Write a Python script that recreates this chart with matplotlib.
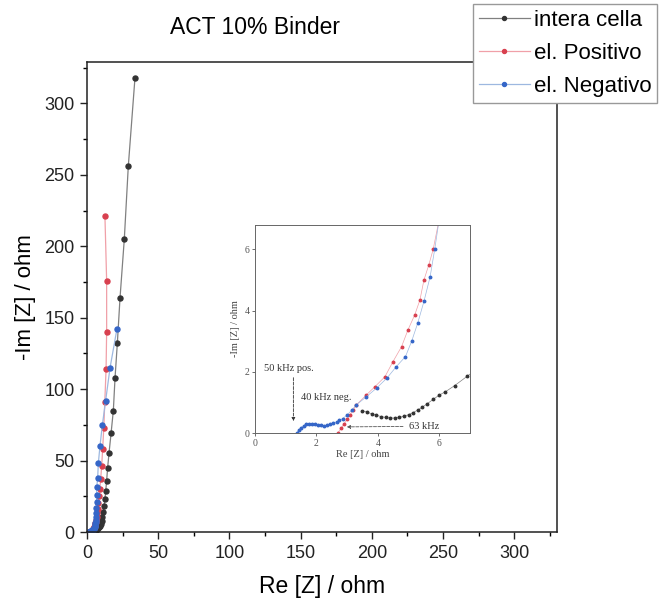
import matplotlib
matplotlib.use("Agg")
import matplotlib.pyplot as plt
from matplotlib.ticker import MultipleLocator

plt.rcParams['font.family'] = ['Liberation Sans', 'DejaVu Sans']

# intera cella (whole cell)
cell_re = [33.7, 29.0, 26.2, 23.2, 21.3, 19.7, 18.5, 16.9, 15.5, 14.5, 13.8, 13.2,
           12.6, 12.0, 11.4, 10.8, 10.2, 9.6, 9.0, 8.4, 7.8, 7.3, 6.9, 6.5, 6.2,
           6.0, 5.8, 5.6, 5.45, 5.3, 5.15, 5.0, 4.85, 4.7, 4.55, 4.4, 4.25, 4.1,
           3.95, 3.8, 3.65, 3.5]
cell_im = [318, 256, 205, 164, 132, 108, 85, 69, 55.5, 45, 36, 29,
           23, 18, 14, 10.5, 7.8, 5.8, 4.3, 3.3, 2.6, 2.15, 1.85, 1.55, 1.35,
           1.24, 1.1, 0.95, 0.85, 0.75, 0.67, 0.6, 0.55, 0.51, 0.49, 0.49, 0.51, 0.54,
           0.58, 0.63, 0.68, 0.73]

# el. Positivo
pos_re = [12.6, 13.8, 13.8, 13.4, 12.5, 11.8, 11.0, 10.3, 9.6, 9.0, 8.5, 8.0,
          7.5, 7.1, 6.7, 6.3, 6.0, 5.8, 5.66, 5.5, 5.37, 5.2, 4.98, 4.77, 4.49,
          4.23, 3.9, 3.63, 3.3, 3.2, 3.1, 3.0, 2.9, 2.8, 2.7]
pos_im = [221, 176, 140, 114, 91, 73, 58, 46, 37, 30, 25, 20,
          16, 13, 10.5, 8.5, 7.0, 6.0, 5.5, 5.0, 4.35, 3.86, 3.37, 2.82, 2.33,
          1.84, 1.51, 1.25, 0.92, 0.76, 0.6, 0.45, 0.3, 0.15, 0.0]

# el. Negativo
neg_re = [21.0, 16.2, 13.1, 10.8, 9.1, 8.0, 7.5, 6.9, 6.8, 6.7, 6.55, 6.4, 6.25,
          6.1, 6.0, 5.85, 5.7, 5.5, 5.3, 5.1, 4.9, 4.6, 4.3, 3.96, 3.63, 3.3,
          3.15, 3.0, 2.85, 2.75, 2.66, 2.55, 2.45, 2.35, 2.25, 2.15, 2.05, 1.95,
          1.85, 1.75, 1.65, 1.58, 1.5, 1.42, 1.36]
neg_im = [142, 115, 92, 75, 60, 48.5, 38, 31.7, 26, 21, 17, 13.5, 10.5,
          8.3, 7.0, 6.0, 5.1, 4.3, 3.6, 3.0, 2.5, 2.17, 1.8, 1.47, 1.19, 0.92,
          0.75, 0.59, 0.47, 0.41, 0.37, 0.32, 0.28, 0.25, 0.24, 0.25, 0.27, 0.3,
          0.31, 0.3, 0.28, 0.24, 0.18, 0.09, 0.0]

series = [
    ('intera cella', cell_re, cell_im, '#333333', '#808080'),
    ('el. Positivo', pos_re, pos_im, '#d8404f', '#f0a0a8'),
    ('el. Negativo', neg_re, neg_im, '#3566c8', '#9db8e0'),
]

fig = plt.figure(figsize=(6.63, 6.0), dpi=100)
ax = fig.add_axes([0.1312, 0.1133, 0.709, 0.7834])

for name, x, y, mc, lc in series:
    ax.plot(x, y, '-', color=lc, lw=0.9, marker='o', ms=3.6,
            mfc=mc, mec=mc, label=name)

ax.set_xlim(0, 330)
ax.set_ylim(0, 329)
ax.xaxis.set_major_locator(MultipleLocator(50))
ax.xaxis.set_minor_locator(MultipleLocator(25))
ax.yaxis.set_major_locator(MultipleLocator(50))
ax.yaxis.set_minor_locator(MultipleLocator(25))
ax.tick_params(which='major', direction='out', length=5, width=1, labelsize=13,
               colors='#222222', pad=4)
ax.tick_params(which='minor', direction='out', length=3, width=1)
for s in ax.spines.values():
    s.set_linewidth(1.1)
    s.set_color('#222222')
ax.set_xlabel('Re [Z] / ohm', fontsize=16.5, labelpad=10)
ax.set_ylabel('-Im [Z] / ohm', fontsize=16, labelpad=6)

fig.text(255 / 663, 1 - 28 / 600, 'ACT 10% Binder', ha='center', va='center', fontsize=16.5)

fig.legend(loc='upper left', bbox_to_anchor=(473 / 663, 1 - 4 / 600), fontsize=16,
           frameon=True, fancybox=False, edgecolor='#999999', framealpha=1,
           handlelength=2.3, handletextpad=0.2, labelspacing=0.55, borderpad=0.25,
           borderaxespad=0, markerscale=0.8)

# inset: zoom on the high-frequency region
ins = fig.add_axes([0.3846, 0.2783, 0.3243, 0.3467])
for name, x, y, mc, lc in series:
    ins.plot(x, y, '-', color=lc, lw=0.5, marker='o', ms=1.8, mfc=mc, mec=mc)
ins.set_xlim(0, 7)
ins.set_ylim(0, 6.8)
ins.xaxis.set_major_locator(MultipleLocator(2))
ins.yaxis.set_major_locator(MultipleLocator(2))
ins.tick_params(direction='out', length=2, width=0.6, labelsize=7, colors='#555555', pad=2)
for lab in ins.get_xticklabels() + ins.get_yticklabels():
    lab.set_family('Liberation Serif')
for s in ins.spines.values():
    s.set_linewidth(0.7)
    s.set_color('#666666')
ins.set_xlabel('Re [Z] / ohm', fontsize=7.5, family='Liberation Serif', color='#444444', labelpad=2)
ins.set_ylabel('-Im [Z] / ohm', fontsize=7.5, family='Liberation Serif', color='#444444', labelpad=3)

note = dict(fontsize=7.5, family='Liberation Serif', va='center', color='#333333')
ins.text(0.3, 2.1, '50 kHz pos.', **note)
ins.annotate('', xy=(1.25, 0.3), xytext=(1.25, 1.9),
             arrowprops=dict(arrowstyle='-|>', ls='--', lw=0.6, color='#333333', mutation_scale=5))
ins.text(1.5, 1.15, '40 kHz neg.', **note)
ins.annotate('63 kHz', xy=(2.9, 0.2), xytext=(5.0, 0.22),
             arrowprops=dict(arrowstyle='-|>', ls='--', lw=0.6, color='#555555', mutation_scale=5),
             **note)

fig.savefig('out.png', dpi=100)
